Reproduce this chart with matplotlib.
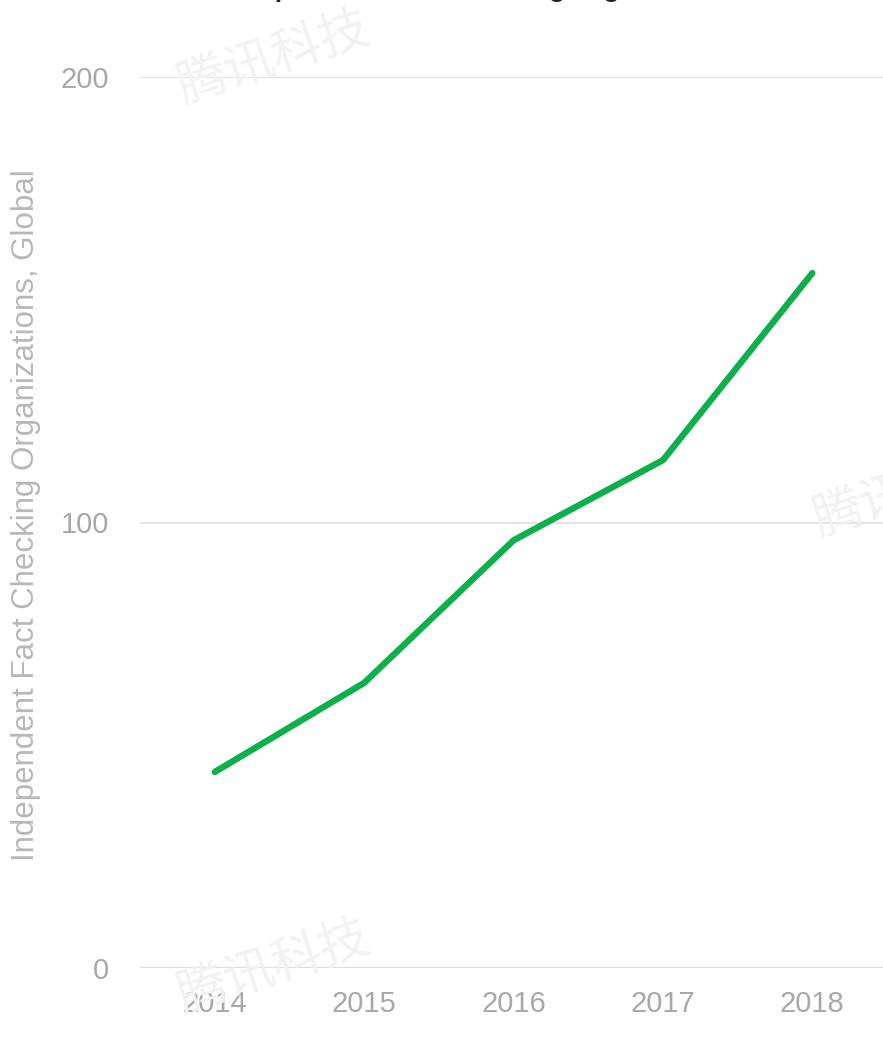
import matplotlib.pyplot as plt

years = [2014, 2015, 2016, 2017, 2018]
organizations = [44, 64, 96, 114, 156]
y_ticks = [0, 100, 200]
y_label = "Independent Fact Checking Organizations, Global"
title = "The Rise of Independent Fact Checking Organizations Worldwide"
watermark = "腾讯科技"

plt.rcParams["font.family"] = ["Liberation Sans", "DejaVu Sans"]

fig = plt.figure(figsize=(8.83, 10.45), dpi=100)
ax = fig.add_axes([0.1586, 0.0737, 0.846, 0.8526])

ax.plot(years, organizations, color="#0bb04a", linewidth=4.6, solid_capstyle="round",
        solid_joinstyle="miter", zorder=3)

ax.set_xlim(2013.5, 2018.5)
ax.set_ylim(0, 200)
ax.set_xticks(years)
ax.set_yticks(y_ticks)
ax.grid(axis="y", color="#e3e3e3", linewidth=1.4)
ax.set_axisbelow(True)
for side in ("top", "right", "left", "bottom"):
    ax.spines[side].set_visible(False)
ax.axhline(0, color="#dcdfe2", linewidth=1.6, zorder=1)
ax.tick_params(axis="both", length=0, labelsize=21, labelcolor="#a8a8a8")
ax.tick_params(axis="x", pad=16)
ax.tick_params(axis="y", pad=22)

fig.text(0.030, 0.507, y_label, rotation=90, ha="center", va="center",
         fontsize=22.5, color="#b8b8b8")

# title cropped at the top edge of the picture, as in the source
fig.text(0.08, 1.003, title, ha="left", va="baseline", fontsize=19,
         fontweight="bold", color="#222222")

# faint watermarks
wm = dict(fontsize=36, color="#f2f2f2", rotation=18, ha="center", va="center",
          family=["Noto Sans CJK SC", "DejaVu Sans"], fontstyle="italic", zorder=0)
fig.text(0.31, 0.945, watermark, **wm)
fig.text(0.31, 0.075, watermark, **wm)
fig.text(1.03, 0.53, watermark, **wm)

fig.savefig("out.png", dpi=100)
